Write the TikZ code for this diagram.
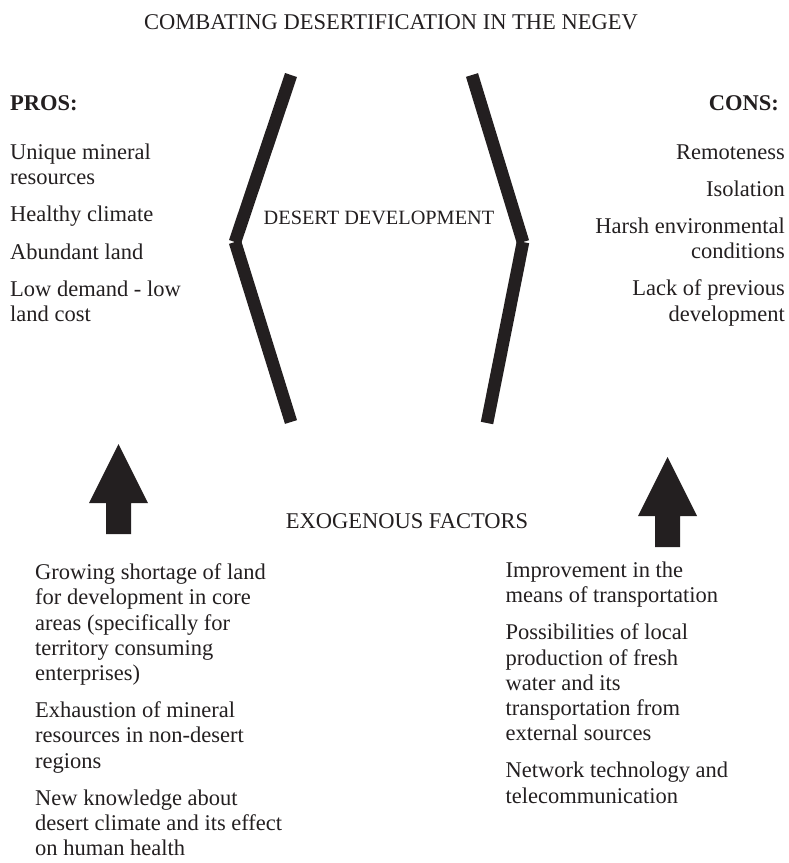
\documentclass[tikz,border=0pt]{standalone}
\usepackage{fontspec}
\setmainfont{Liberation Serif}
\usepackage{xcolor}
\definecolor{ink}{HTML}{231F20}

\begin{document}
\begin{tikzpicture}[
    x=1pt, y=-1pt,
    txt/.style={inner sep=0pt, text=ink, font=\fontsize{22.5}{25.2}\selectfont},
    head/.style={txt, font=\fontsize{22.5}{25.2}\selectfont\bfseries},
    lst/.style={txt, align=left},
    bar/.style={draw=ink, line width=12.6pt, line cap=butt},
    uparrow/.pic={\fill[ink] (0,0) -- (29.5,59) -- (12.5,59) -- (12.5,90) -- (-12.5,90) -- (-12.5,59) -- (-29.5,59) -- cycle;}
]
\useasboundingbox (0,0) rectangle (788,863);

\node[txt, anchor=base] (title) at (391,29) {COMBATING DESERTIFICATION IN THE NEGEV};

% pros and cons columns
\node[head, anchor=base west] (pros) at (10,110) {PROS:};
\node[head, anchor=base east] (cons) at (779,110) {CONS:};

\node[lst, anchor=north west] (proslist) at (10,143.6) {Unique mineral\\resources\\[12pt]Healthy climate\\[12pt]Abundant land\\[12pt]Low demand - low\\land cost};
\node[lst, align=right, anchor=north east] (conslist) at (785,144.1) {Remoteness\\[12pt]Isolation\\[12pt]Harsh environmental\\conditions\\[12pt]Lack of previous\\development};

% the two brackets
\coordinate (lt) at (291,75);
\coordinate (lv) at (235,242);
\coordinate (lb) at (291,422);
\coordinate (rt) at (472,75);
\coordinate (rv) at (523,242);
\coordinate (rb) at (487,423);
\draw[bar] (lt) -- (lv);
\draw[bar] (lv) -- (lb);
\draw[bar] (rt) -- (rv);
\draw[bar] (rv) -- (rb);

\node[txt, font=\fontsize{20.3}{24}\selectfont, anchor=base] (core) at (379,224) {DESERT DEVELOPMENT};

% exogenous factors
\pic (pushl) at (118.5,444) {uparrow};
\pic (pushr) at (667.5,457) {uparrow};
\node[txt, anchor=base] (exo) at (407,528) {EXOGENOUS FACTORS};

\node[lst, anchor=north west] (exoleft) at (35,563.6) {Growing shortage of land\\for development in core\\areas (specifically for\\territory consuming\\enterprises)\\[12pt]Exhaustion of mineral\\resources in non-desert\\regions\\[12pt]New knowledge about\\desert climate and its effect\\on human health};
\node[lst, anchor=north west] (exoright) at (505.5,561.6) {Improvement in the\\means of transportation\\[12pt]Possibilities of local\\production of fresh\\water and its\\transportation from\\external sources\\[12pt]Network technology and\\telecommunication};

\end{tikzpicture}
\end{document}
